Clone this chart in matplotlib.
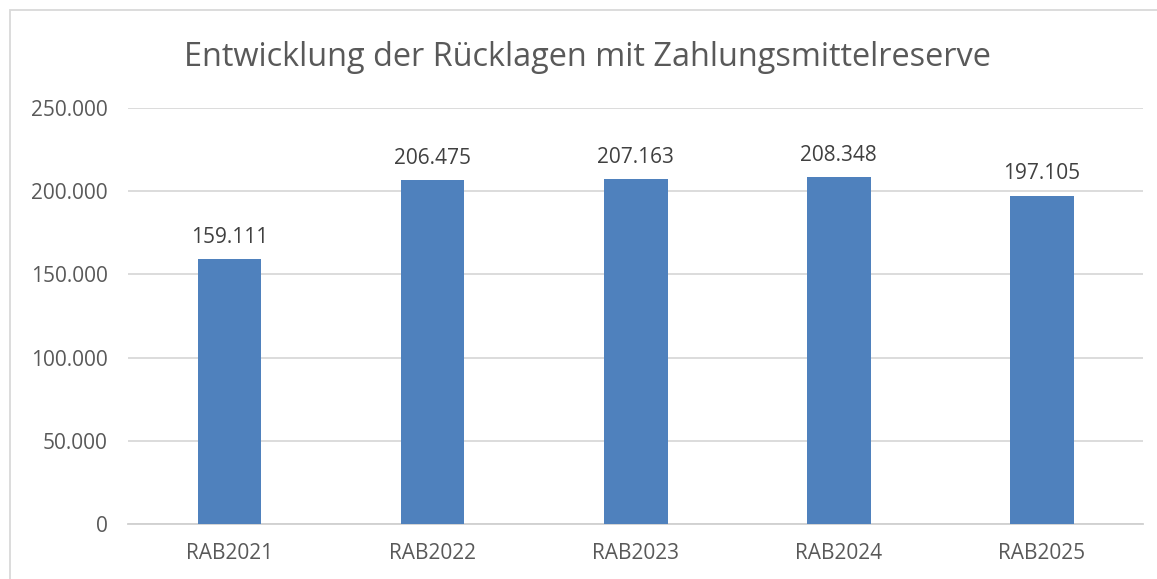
import matplotlib.pyplot as plt
import matplotlib.patches as patches
import matplotlib.ticker as ticker

plt.rcParams["font.family"] = ["Open Sans", "DejaVu Sans"]

categories = ["RAB2021", "RAB2022", "RAB2023", "RAB2024", "RAB2025"]
values = [159111, 206475, 207163, 208348, 197105]
yticks = [0, 50000, 100000, 150000, 200000, 250000]


def de_fmt(v, pos=None):
    return f"{int(v):,}".replace(",", ".")


fig = plt.figure(figsize=(11.57, 5.79), dpi=100)
ax = fig.add_axes([0.1106, 0.095, 0.8774, 0.7185])

x = range(len(categories))
bars = ax.bar(x, values, width=0.315, color="#4f81bd", zorder=3)
for xi, v in zip(x, values):
    ax.text(xi, v + 7000, de_fmt(v), ha="center", va="bottom", fontsize=15, color="#404040")

ax.set_xlim(-0.5, len(categories) - 0.5)
ax.set_ylim(0, 250000)
ax.set_yticks(yticks)
ax.yaxis.set_major_formatter(ticker.FuncFormatter(de_fmt))
ax.set_xticks(list(x))
ax.set_xticklabels(categories)
ax.tick_params(axis="both", length=0, labelsize=15, labelcolor="#595959")
ax.tick_params(axis="x", pad=14)
ax.tick_params(axis="y", pad=14.5)
ax.grid(axis="y", color="#d9d9d9", linewidth=1.3, zorder=0)
for s in ["top", "right", "left"]:
    ax.spines[s].set_visible(False)
ax.spines["bottom"].set_color("#d0d0d0")
ax.spines["bottom"].set_linewidth(1.3)

fig.text(0.508, 0.90, "Entwicklung der Rücklagen mit Zahlungsmittelreserve",
         ha="center", va="center", fontsize=23.4, color="#595959")

# chart frame
fig.patches.append(patches.Rectangle((10 / 1157, -0.1), 1.2, 1 - 10 / 579 + 0.1,
                                     transform=fig.transFigure, fill=False,
                                     edgecolor="#d9d9d9", linewidth=1.3))

fig.savefig("out.png", dpi=100)
